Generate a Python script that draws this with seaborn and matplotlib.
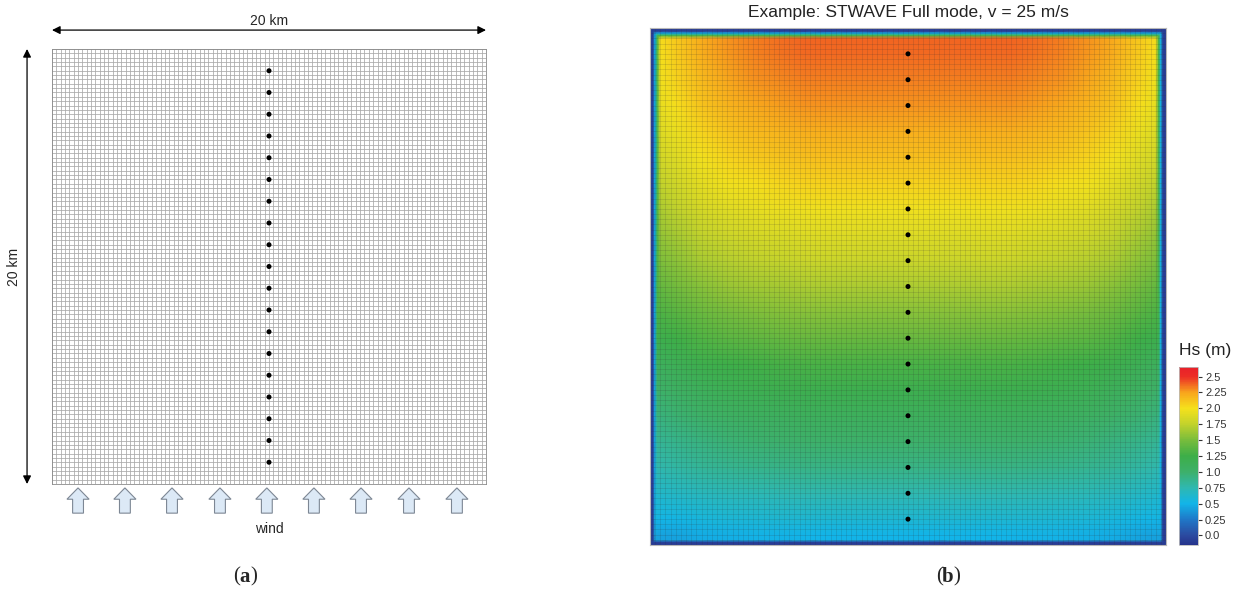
import numpy as np
import matplotlib
matplotlib.use("Agg")
import matplotlib.pyplot as plt
from matplotlib.colors import LinearSegmentedColormap
from matplotlib.patches import FancyArrow
import seaborn as sns

sns.set_theme(style="white")
plt.rcParams["font.family"] = ["Liberation Sans", "DejaVu Sans"]

# ---- domain and output stations ----
domain_km = 20.0
n_cells = 100
station_x = [10.0] * 19
station_y = [1, 2, 3, 4, 5, 6, 7, 8, 9, 10, 11, 12, 13, 14, 15, 16, 17, 18, 19]
wind_arrow_x = [1.2, 3.36, 5.53, 7.74, 9.9, 12.07, 14.24, 16.45, 18.66]

# ---- significant wave height field (m), sampled on nodes ----
node_km = [0, 0.12, 0.2, 0.28, 0.4, 1, 2, 3, 4, 5, 6, 7, 8, 9, 10, 11, 12, 13,
           14, 15, 16, 17, 18, 19, 19.6, 19.72, 19.8, 19.88, 20]
# along-wind profile (south -> north)
hs_fetch = [0.5, 0.5, 0.5, 0.5, 0.5, 0.6, 0.75, 0.9, 1.0, 1.1, 1.2, 1.3, 1.43,
            1.55, 1.67, 1.78, 1.88, 1.97, 2.06, 2.14, 2.21, 2.28, 2.33, 2.37,
            2.38, 2.38, 2.38, 2.38, 2.38]
# cross-wind reduction near lateral boundaries
cross_factor = [0.85, 0.85, 0.85, 0.85, 0.85, 0.88, 0.93, 0.96, 0.978, 0.99,
                1.0, 1.0, 1.0, 1.0, 1.0, 1.0, 1.0, 1.0, 1.0, 0.99, 0.978,
                0.96, 0.93, 0.88, 0.85, 0.85, 0.85, 0.85, 0.85]
# boundary ring cap
ring_cap = [-0.12, -0.05, 0.5, 1.3, 9, 9, 9, 9, 9, 9, 9, 9, 9, 9, 9, 9, 9, 9,
            9, 9, 9, 9, 9, 9, 9, 1.3, 0.5, -0.05, -0.12]

cbar_ticks = [0.0, 0.25, 0.5, 0.75, 1.0, 1.25, 1.5, 1.75, 2.0, 2.25, 2.5]
cbar_labels = ["0.0", "0.25", "0.5", "0.75", "1.0", "1.25", "1.5", "1.75",
               "2.0", "2.25", "2.5"]
vmin, vmax = -0.15, 2.65

cmap_vals = [-0.15, 0.0, 0.25, 0.5, 0.75, 1.0, 1.25, 1.5, 1.75, 2.0, 2.25, 2.5, 2.65]
cmap_cols = ["#26348c", "#2b4aa0", "#1f78c8", "#12b5e8", "#2fb8b0", "#3db06a",
             "#3dae48", "#78bc3c", "#c2d22c", "#f5e11c", "#f8a51c", "#ec2e26",
             "#e8202a"]
cmap = LinearSegmentedColormap.from_list(
    "hs", [((v - vmin) / (vmax - vmin), c) for v, c in zip(cmap_vals, cmap_cols)])

W, H = 1237, 594
fig = plt.figure(figsize=(W / 100, H / 100), dpi=100)


def px_axes(x0, y0, x1, y1):
    return fig.add_axes([x0 / W, 1 - y1 / H, (x1 - x0) / W, (y1 - y0) / H])


grid_lines = np.linspace(0, domain_km, n_cells + 1)

# ---------------- (a) computational grid ----------------
axa = px_axes(52, 49, 486, 484)
axa.set_xlim(0, domain_km)
axa.set_ylim(0, domain_km)
axa.vlines(grid_lines, 0, domain_km, colors="#a8a8a8", lw=0.55)
axa.hlines(grid_lines, 0, domain_km, colors="#a8a8a8", lw=0.55)
sns.scatterplot(x=station_x, y=station_y, ax=axa, color="black", s=13,
                edgecolor="none", legend=False, zorder=5)
axa.set_xticks([])
axa.set_yticks([])
for s in axa.spines.values():
    s.set_color("#8a8a8a")
    s.set_linewidth(0.6)

# extent arrows
axa.annotate("", xy=(0, 20.87), xytext=(20, 20.87), annotation_clip=False,
             arrowprops=dict(arrowstyle="<|-|>", color="black", lw=0.9,
                             mutation_scale=12, shrinkA=0, shrinkB=0))
axa.text(10, 21.3, "20 km", ha="center", va="center", fontsize=10)
axa.annotate("", xy=(-1.15, 0), xytext=(-1.15, 20), annotation_clip=False,
             arrowprops=dict(arrowstyle="<|-|>", color="black", lw=0.9,
                             mutation_scale=12, shrinkA=0, shrinkB=0))
axa.text(-1.75, 10, "20 km", ha="center", va="center", fontsize=10, rotation=90)

# wind arrows
for xa in wind_arrow_x:
    arr = FancyArrow(xa, -1.34, 0, 1.16, width=0.5, head_width=1.02,
                     head_length=0.52, length_includes_head=True,
                     facecolor="#dce9f6", edgecolor="#7d8794", lw=0.8,
                     clip_on=False)
    axa.add_patch(arr)
axa.text(10, -2.05, "wind", ha="center", va="center", fontsize=10)

# ---------------- (b) wave height field ----------------
axb = px_axes(650, 28, 1166, 545)
nodes = np.array(node_km)
X, Y = np.meshgrid(nodes, nodes)
interior = np.outer(hs_fetch, cross_factor)
cap = np.minimum.outer(np.array(ring_cap), np.array(ring_cap))
field = np.minimum(interior, cap)
mesh = axb.pcolormesh(X, Y, field, shading="gouraud", cmap=cmap,
                      vmin=vmin, vmax=vmax, rasterized=True)
axb.vlines(grid_lines, 0, domain_km, colors="#303030", alpha=0.2, lw=0.5)
axb.hlines(grid_lines, 0, domain_km, colors="#303030", alpha=0.2, lw=0.5)
sns.scatterplot(x=station_x, y=station_y, ax=axb, color="black", s=13,
                edgecolor="none", legend=False, zorder=5)
axb.set_xlim(0, domain_km)
axb.set_ylim(0, domain_km)
axb.set_xticks([])
axb.set_yticks([])
for s in axb.spines.values():
    s.set_color("#b8b8b8")
    s.set_linewidth(0.8)

fig.text(908 / W, 1 - 12 / H, "Example: STWAVE Full mode, v = 25 m/s",
         ha="center", va="center", fontsize=12.5, color="#222222")

cax = px_axes(1179, 367, 1198, 545)
cb = fig.colorbar(mesh, cax=cax, ticks=cbar_ticks)
cb.ax.set_yticklabels(cbar_labels)
cb.ax.tick_params(direction="out", length=3, width=0.8, pad=2, labelsize=8,
                  colors="#333333", right=True, left=False)
cb.outline.set_edgecolor("#bbbbbb")
cb.outline.set_linewidth(0.6)
fig.text(1205 / W, 1 - 350 / H, "Hs (m)", ha="center", va="center",
         fontsize=12.5, color="#222222")

# panel captions: "(a)" and "(b)" with bold letters
serif = ["Liberation Serif", "DejaVu Serif"]
for cx, letter in [(245, "a"), (948, "b")]:
    y = 1 - 577 / H
    fig.text((cx - 5) / W, y, "(", ha="right", va="center", fontsize=15, family=serif)
    fig.text(cx / W, y, letter, ha="center", va="center", fontsize=15,
             family=serif, weight="bold")
    fig.text((cx + 5) / W, y, ")", ha="left", va="center", fontsize=15, family=serif)

fig.savefig("out.png", dpi=100, facecolor="white")
